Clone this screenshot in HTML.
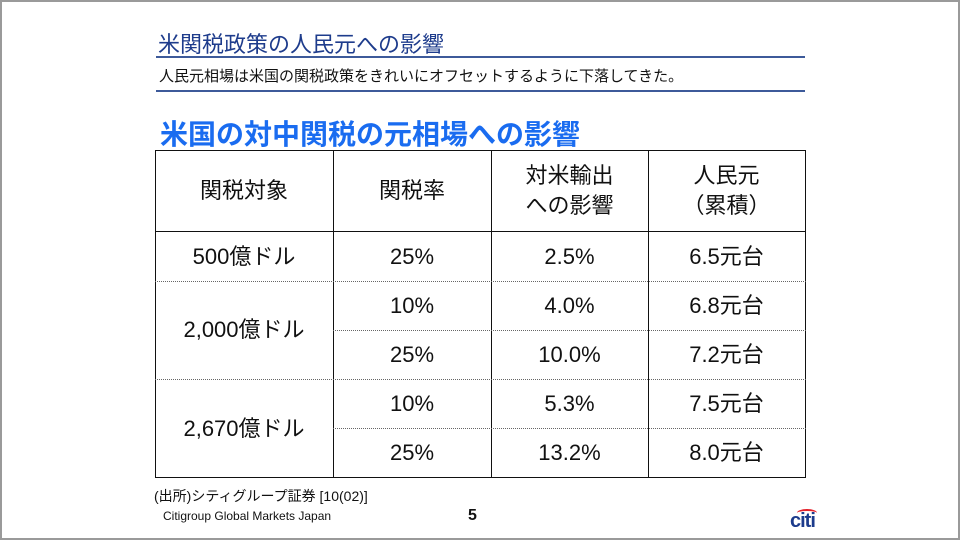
<!DOCTYPE html>
<html><head><meta charset="utf-8"><style>
*{margin:0;padding:0;box-sizing:border-box}
body{width:960px;height:540px;position:relative;background:#fff;font-family:"Liberation Sans","Noto Sans CJK JP",sans-serif;overflow:hidden}
.frame{position:absolute;left:0;top:0;width:960px;height:540px;border:2px solid #9a9a9a}
.a{position:absolute;white-space:nowrap}
.c{position:absolute;display:flex;align-items:center;justify-content:center;text-align:center;font-size:22px;color:#111;line-height:30px}
.v{position:absolute;background:#111;width:1.3px}
.h{position:absolute;height:0}
</style></head><body>
<div class="frame"></div>
<div class="a" style="left:158px;top:27px;font-size:22px;color:#1e3c8c">米関税政策の人民元への影響</div>
<div class="a" style="left:156px;top:56px;width:649px;height:2px;background:#3d5a9a"></div>
<div class="a" style="left:159px;top:65px;font-size:15px;color:#111">人民元相場は米国の関税政策をきれいにオフセットするように下落してきた。</div>
<div class="a" style="left:156px;top:90px;width:649px;height:2px;background:#3d5a9a"></div>
<div class="a" style="left:160px;top:113px;font-size:28px;font-weight:bold;color:#1a6cf0">米国の対中関税の元相場への影響</div>

<div class="a" style="left:155px;top:150px;width:651px;height:328px;border:1.3px solid #111"></div>
<div class="v" style="left:333px;top:150px;height:328px"></div>
<div class="v" style="left:491px;top:150px;height:328px"></div>
<div class="v" style="left:648px;top:150px;height:328px"></div>
<div class="a" style="left:155px;top:231px;width:651px;height:1.3px;background:#111"></div>
<div class="h" style="left:155px;top:281px;width:651px;border-top:1.3px dotted #666"></div>
<div class="h" style="left:333px;top:330px;width:473px;border-top:1.3px dotted #666"></div>
<div class="h" style="left:155px;top:379px;width:651px;border-top:1.3px dotted #666"></div>
<div class="h" style="left:333px;top:428px;width:473px;border-top:1.3px dotted #666"></div>

<div class="c" style="left:155px;top:150px;width:178px;height:82px">関税対象</div>
<div class="c" style="left:333px;top:150px;width:158px;height:82px">関税率</div>
<div class="c" style="left:491px;top:150px;width:157px;height:82px">対米輸出<br>への影響</div>
<div class="c" style="left:648px;top:150px;width:157px;height:82px">人民元<br>（累積）</div>

<div class="c" style="left:155px;top:232px;width:178px;height:49px">500億ドル</div>
<div class="c" style="left:333px;top:232px;width:158px;height:49px">25%</div>
<div class="c" style="left:491px;top:232px;width:157px;height:49px">2.5%</div>
<div class="c" style="left:648px;top:232px;width:157px;height:49px">6.5元台</div>

<div class="c" style="left:155px;top:281px;width:178px;height:98px">2,000億ドル</div>
<div class="c" style="left:333px;top:281px;width:158px;height:49px">10%</div>
<div class="c" style="left:491px;top:281px;width:157px;height:49px">4.0%</div>
<div class="c" style="left:648px;top:281px;width:157px;height:49px">6.8元台</div>
<div class="c" style="left:333px;top:330px;width:158px;height:49px">25%</div>
<div class="c" style="left:491px;top:330px;width:157px;height:49px">10.0%</div>
<div class="c" style="left:648px;top:330px;width:157px;height:49px">7.2元台</div>

<div class="c" style="left:155px;top:379px;width:178px;height:99px">2,670億ドル</div>
<div class="c" style="left:333px;top:379px;width:158px;height:49px">10%</div>
<div class="c" style="left:491px;top:379px;width:157px;height:49px">5.3%</div>
<div class="c" style="left:648px;top:379px;width:157px;height:49px">7.5元台</div>
<div class="c" style="left:333px;top:428px;width:158px;height:50px">25%</div>
<div class="c" style="left:491px;top:428px;width:157px;height:50px">13.2%</div>
<div class="c" style="left:648px;top:428px;width:157px;height:50px">8.0元台</div>

<div class="a" style="left:154px;top:486px;font-size:14px;color:#111">(出所)シティグループ証券 [10(02)]</div>
<div class="a" style="left:163px;top:509px;font-size:12px;color:#111">Citigroup Global Markets Japan</div>
<div class="a" style="left:468px;top:507px;font-size:16px;font-weight:bold;color:#111">5</div>
<div class="a" style="left:790px;top:510px;font-size:20px;font-weight:bold;color:#1c3b8c;letter-spacing:-1px">citi</div>
<div class="a" style="left:797px;top:509px;width:20px;height:8px;border-top:2.5px solid #e3212a;border-radius:50% 50% 0 0"></div>
</body></html>
